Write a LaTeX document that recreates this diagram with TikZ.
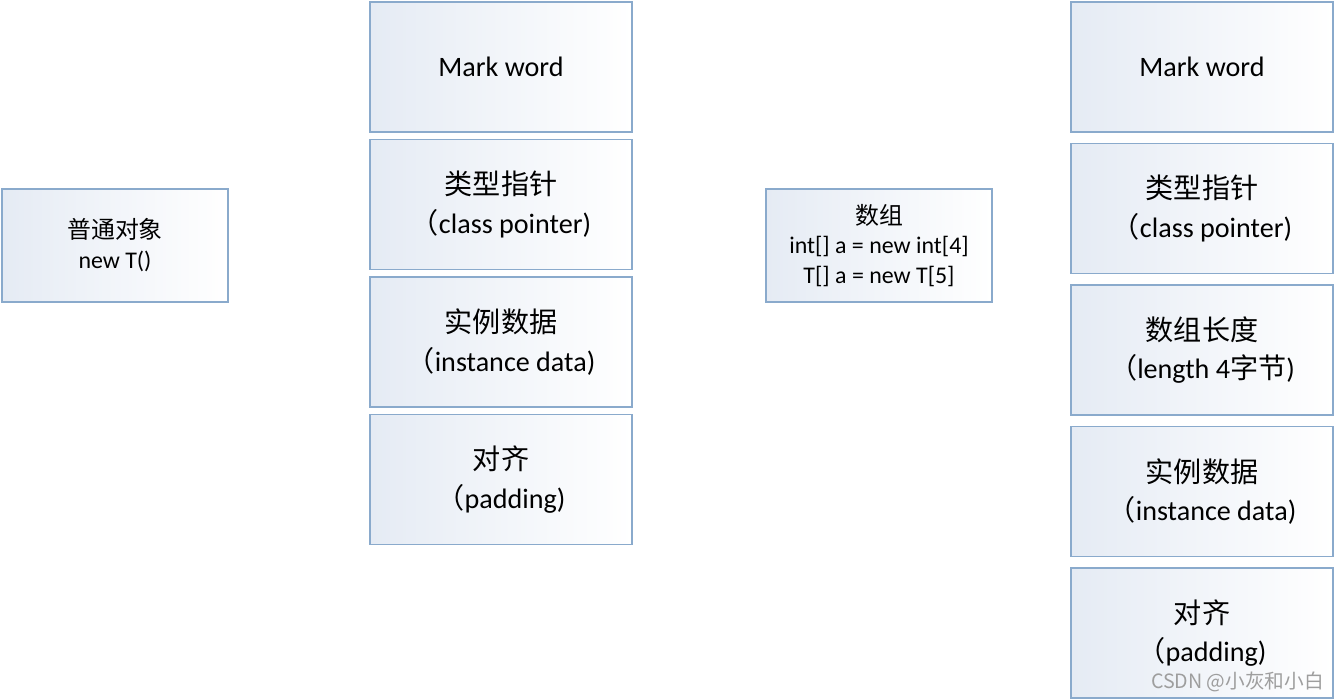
\documentclass[tikz,border=0pt]{standalone}
\usepackage{fontspec}
\setmainfont{Carlito}
\newfontfamily\cjk{Noto Sans CJK SC}
\usetikzlibrary{positioning}
\definecolor{boxline}{RGB}{138,170,204}
\definecolor{boxfill}{RGB}{229,235,244}
\tikzset{
  cell/.style={draw=boxline, line width=0.6pt, left color=boxfill, right color=white,
    minimum width=5.24cm, minimum height=2.6cm, inner sep=0pt, outer sep=0pt,
    align=center, font=\fontsize{16}{22}\selectfont},
  obj/.style={cell, minimum width=4.52cm, minimum height=2.26cm,
    font=\fontsize{13.6}{17}\selectfont}
}
\begin{document}
\begin{tikzpicture}
      \useasboundingbox (0,0) rectangle (26.7,-14);
      % left side: plain object
      \node [obj] (obj) at (2.30,-4.91) {{\cjk 普通对象}\\new T()};
      \node [cell] (mark) at (10.02,-1.34) {Mark word};
      \node [cell,below=0.15cm of mark] (klass) {{\cjk 类型指针}\\{\cjk （}class pointer)};
      \node [cell,below=0.15cm of klass] (data) {{\cjk 实例数据}\\{\cjk （}instance data)};
      \node [cell,below=0.15cm of data] (pad) {{\cjk 对齐}\\{\cjk （}padding)};

      % right side: array
      \node [obj] (arr) at (17.58,-4.91) {{\cjk 数组}\\int[] a = new int[4]\\T[] a = new T[5]};
      \node [cell] (amark) at (24.04,-1.34) {Mark word};
      \node [cell,below=0.23cm of amark] (aklass) {{\cjk 类型指针}\\{\cjk （}class pointer)};
      \node [cell,below=0.23cm of aklass] (alen) {{\cjk 数组长度}\\{\cjk （}length 4{\cjk 字节})};
      \node [cell,below=0.23cm of alen] (adata) {{\cjk 实例数据}\\{\cjk （}instance data)};
      \node [cell,below=0.23cm of adata] (apad) {{\cjk 对齐}\\{\cjk （}padding)};

      \node [text=black!38,font=\cjk\fontsize{11.2}{13}\selectfont] (mark2) at (24.75,-13.64) {CSDN @小灰和小白};
    \end{tikzpicture}
\end{document}
